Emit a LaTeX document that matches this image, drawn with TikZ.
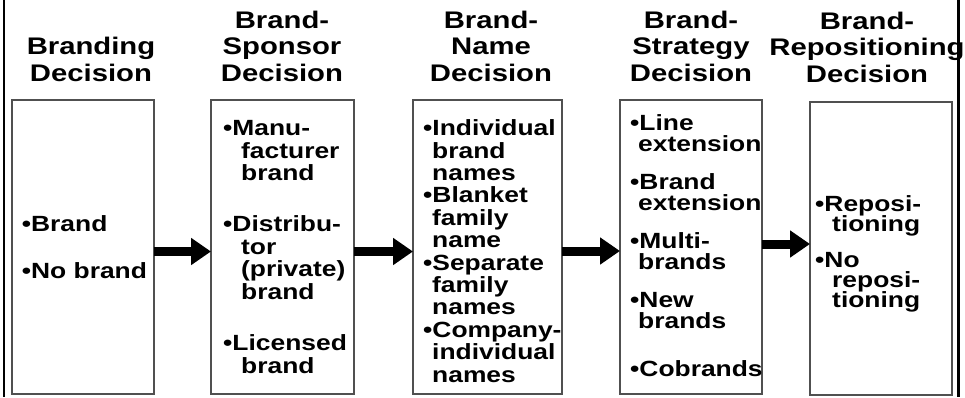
\documentclass[tikz,border=0pt]{standalone}
\usepackage{fontspec}
\setmainfont{Liberation Sans}[FakeStretch=1.2]
\newfontfamily\headfont{Liberation Sans}[FakeStretch=1.22]
\usetikzlibrary{arrows.meta}
\definecolor{boxgray}{RGB}{80,80,80}
% indentation of the continuation lines of a bullet item
\newlength\contindent
\newcommand\cw{\hspace*{\contindent}}
\begin{document}
\begin{tikzpicture}[x=1pt,y=-1pt,
  choicebox/.style={draw=boxgray, line width=1.5pt, inner sep=0pt, outer sep=0pt,
    minimum height=294pt},
  % multi-line nodes: the base anchor sits on the baseline of the last line
  heading/.style={font=\headfont\fontsize{24}{26.5}\selectfont\bfseries, align=center,
    anchor=base, inner sep=0pt},
  items/.style={font=\fontsize{22}{22.6}\selectfont\bfseries, align=left,
    anchor=base west, inner sep=0pt,
    execute at begin node={\setlength\contindent{#1}\lineskiplimit=-50pt\relax}},
  items/.default=9pt,
  flow/.style={line width=9pt, -{Triangle[length=20pt 0 0, width=26pt 0 0]}},
]
\useasboundingbox (0,0) rectangle (965,397);

% outer frame (left and right rules)
\draw[line width=2.5pt] (4,0) -- (4,397);
\draw[line width=3pt] (958.5,0) -- (958.5,397);

% decision boxes
\node[choicebox, minimum width=142pt] (b1) at (83,247) {};
\node[choicebox, minimum width=143pt] (b2) at (282.5,247) {};
\node[choicebox, minimum width=149pt] (b3) at (487.5,247) {};
\node[choicebox, minimum width=142pt] (b4) at (691,247) {};
\node[choicebox, minimum width=142pt, minimum height=293pt] (b5) at (881,248.5) {};

% headings
\node[heading] (t1) at (91,81) {Branding\\Decision};
\node[heading] (t2) at (282,81) {Brand-\\Sponsor\\Decision};
\node[heading] (t3) at (491,81) {Brand-\\Name\\Decision};
\node[heading] (t4) at (691,81) {Brand-\\Strategy\\Decision};
\node[heading] (t5) at (867,82) {Brand-\\Repositioning\\Decision};

% options of each decision
\node[items] (l1) at (21.7,278) {•Brand\\[24.4pt]•No brand};
\node[items=18pt] (l2) at (223,373) {•Manu-\\\cw facturer\\\cw brand\\[28.4pt]
  •Distribu-\\\cw tor\\\cw(private)\\\cw brand\\[28.4pt]
  •Licensed\\\cw brand};
\node[items, font=\fontsize{22}{22.4}\selectfont\bfseries] (l3) at (423,382)
  {•Individual\\\cw brand\\\cw names\\
   •Blanket\\\cw family\\\cw name\\
   •Separate\\\cw family\\\cw names\\
   •Company-\\\cw individual\\\cw names};
\node[items=8pt, font=\fontsize{22}{21}\selectfont\bfseries] (l4) at (630,376)
  {•Line\\\cw extension\\[17pt]
   •Brand\\\cw extension\\[17pt]
   •Multi-\\\cw brands\\[17pt]
   •New\\\cw brands\\[27pt]
   •Cobrands};
\node[items=17pt, font=\fontsize{22}{20}\selectfont\bfseries] (l5) at (815,307)
  {•Reposi-\\\cw tioning\\[16pt]
   •No\\\cw reposi-\\\cw tioning};

% flow between the decisions
\draw[flow] ([yshift=-4.5pt]b1.east) -- ([yshift=-4.5pt]b2.west);
\draw[flow] ([yshift=-4.5pt]b2.east) -- ([yshift=-4.5pt]b3.west);
\draw[flow] ([yshift=-4pt]b3.east) -- ([yshift=-4pt]b4.west);
\draw[flow] ([yshift=3pt]b4.east) -- ([yshift=4.5pt]b5.west);
\end{tikzpicture}
\end{document}
